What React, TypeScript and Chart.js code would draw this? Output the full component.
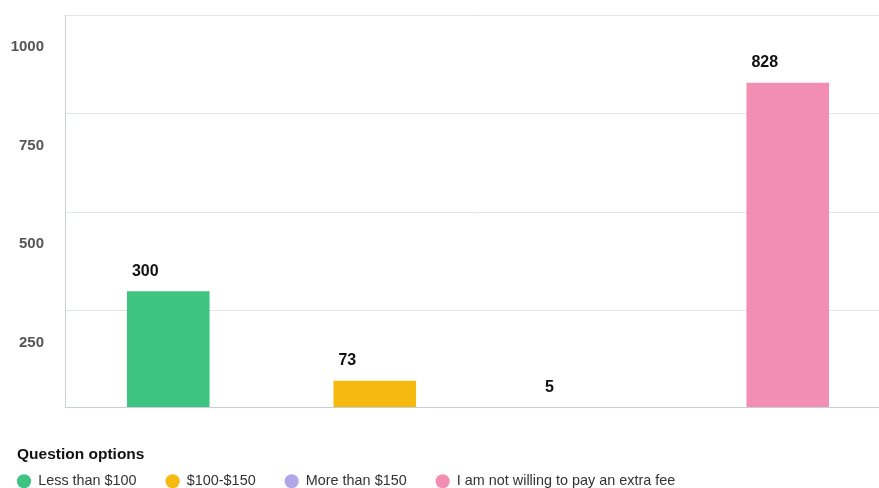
import React, { useEffect, useRef } from 'react';
import { Chart, registerables } from 'chart.js';

Chart.register(...registerables);

const categories = ['Less than $100', '$100-$150', 'More than $150', 'I am not willing to pay an extra fee'];
const values = [300, 73, 5, 828];
const colors = ['#3ec480', '#f5b90f', '#b0a6e8', '#f28eb1'];
const yTicks = [250, 500, 750, 1000];
const yMin = 6.4;
const yMax = 1000;
const legendTitle = 'Question options';

const FONT = '"Liberation Sans", Arial, Helvetica, sans-serif';

const valueLabels = {
  id: 'valueLabels',
  afterDatasetsDraw(chart: any) {
    const { ctx } = chart;
    const meta = chart.getDatasetMeta(0);
    ctx.save();
    ctx.font = `bold 16px ${FONT}`;
    ctx.fillStyle = '#111';
    ctx.textAlign = 'left';
    ctx.textBaseline = 'middle';
    meta.data.forEach((bar: any, i: number) => {
      const { x, y, width } = bar.getProps(['x', 'y', 'width'], true);
      ctx.fillText(String(values[i]), x - width / 2 + 5, y - 20);
    });
    ctx.restore();
  },
};

const legendPlace = {
  id: 'legendPlace',
  afterLayout(chart: any) {
    const lg = chart.legend;
    if (lg) {
      lg.left = 17 - 29;
      lg.top = 445;
    }
    const tb = chart.titleBlock;
    if (tb) {
      tb.left = 17;
    }
  },
};

export default function App() {
  const ref = useRef<HTMLCanvasElement>(null);
  useEffect(() => {
    if (!ref.current) return;
    const chart = new Chart(ref.current, {
      type: 'bar',
      data: {
        labels: categories,
        datasets: [
          {
            label: legendTitle,
            data: values,
            backgroundColor: colors,
            borderWidth: 0,
            barPercentage: 0.4,
            categoryPercentage: 1,
          },
        ],
      },
      options: {
        animation: false,
        responsive: false,
        devicePixelRatio: 1,
        layout: { padding: { left: 0, top: 15, right: 0, bottom: 0 } },
        scales: {
          x: {
            grid: { display: false, drawTicks: false },
            border: { display: true, color: '#c9cedb', width: 1 },
            ticks: { display: false },
          },
          y: {
            min: yMin,
            max: yMax,
            afterBuildTicks: (scale: any) => {
              scale.ticks = yTicks.map((v) => ({ value: v }));
            },
            afterFit: (scale: any) => {
              scale.width = 65;
              scale.paddingTop = 0;
              scale.paddingBottom = 0;
            },
            grid: { color: '#e3e6ed', drawTicks: false },
            border: { color: '#cdd2de', width: 1 },
            ticks: {
              padding: 21,
              labelOffset: 32,
              color: '#555',
              font: { family: FONT, size: 15, weight: 'bold' },
              callback: (v: any) => String(v),
            },
          },
        },
        plugins: {
          tooltip: { enabled: false },
          title: {
            display: true,
            text: legendTitle,
            position: 'bottom',
            align: 'start',
            weight: 500,
            color: '#111',
            font: { family: FONT, size: 15.5, weight: 'bold' },
            padding: { top: 38, bottom: 0 },
          } as any,
          legend: {
            display: true,
            position: 'bottom',
            align: 'start',
            onClick: () => {},
            labels: {
              usePointStyle: true,
              pointStyle: 'circle',
              boxWidth: 14,
              boxHeight: 10,
              padding: 29,
              color: '#333',
              font: { family: FONT, size: 14.4 },
              generateLabels: () =>
                categories.map((c, i) => ({
                  text: c,
                  fillStyle: colors[i],
                  strokeStyle: colors[i],
                  lineWidth: 0,
                  pointStyle: 'circle',
                  hidden: false,
                  fontColor: '#333',
                  index: i,
                  datasetIndex: 0,
                })),
            },
          },
        },
      },
      plugins: [valueLabels, legendPlace],
    } as any);
    return () => chart.destroy();
  }, []);

  return (
    <div
      style={{
        position: 'fixed',
        left: 0,
        top: 0,
        width: 879,
        height: 488,
        overflow: 'hidden',
        background: '#fff',
      }}
    >
      <canvas ref={ref} width={891} height={517} style={{ display: 'block' }} />
    </div>
  );
}
